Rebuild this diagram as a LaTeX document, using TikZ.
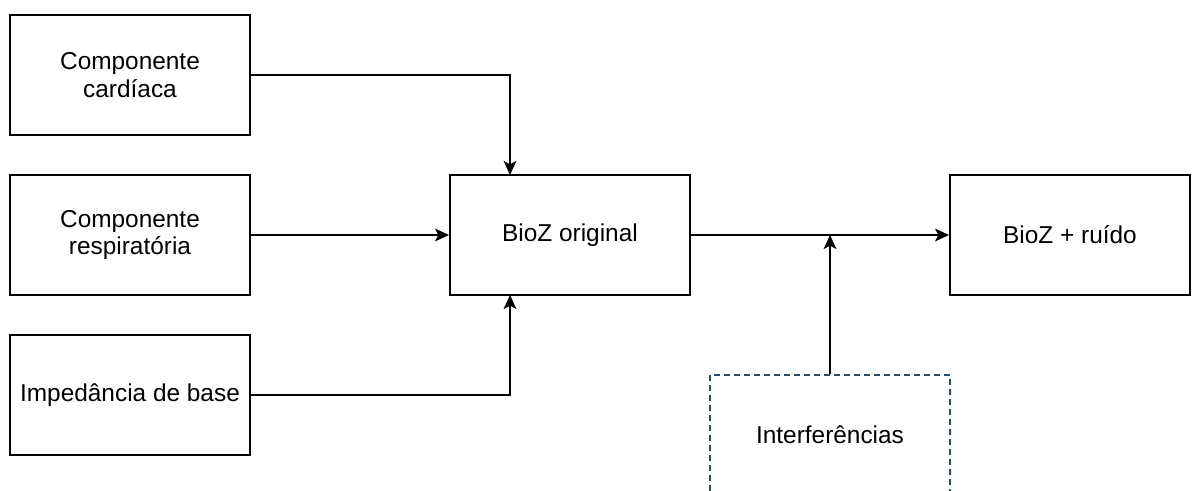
\documentclass[tikz,border=0pt]{standalone}
\usepackage{fontspec}
\setmainfont{Liberation Sans}
\usetikzlibrary{arrows.meta}
\definecolor{dashc}{RGB}{45,75,100}
\tikzset{
  blk/.style={draw=black, line width=1.4pt, minimum width=240*0.75pt, minimum height=120*0.75pt, inner sep=0pt, align=center, font=\fontsize{18.3}{20.5}\selectfont, fill=white},
  dblk/.style={blk, draw=dashc, dash pattern=on 4.5pt off 3pt},
  arr/.style={line width=1.4pt, -{Stealth[length=10.5pt,width=9.5pt,inset=2.5pt]}},
}
\begin{document}
\begin{tikzpicture}[x=0.75pt,y=-0.75pt]
\useasboundingbox (0,0) rectangle (1194,491);
\clip (0,0) rectangle (1194,491);
\node[blk] (c1) at (130,75) {Componente\\cardíaca};
\node[blk] (c2) at (130,235) {Componente\\respiratória};
\node[blk] (c3) at (130,395) {Impedância de base};
\node[blk] (bio) at (570,235) {BioZ original};
\node[blk] (out) at (1070,235) {BioZ + ruído};
\node[dblk] (intf) at (830,435) {Interferências};
\coordinate (bt) at (510,175);
\coordinate (bb) at (510,295);
\coordinate (j) at (830,235);
\draw[arr] (c1.east) -| (bt);
\draw[arr] (c2.east) -- (bio.west);
\draw[arr] (c3.east) -| (bb);
\draw[arr] (bio.east) -- (out.west);
\draw[arr] (intf.north) -- (j);
\end{tikzpicture}
\end{document}
